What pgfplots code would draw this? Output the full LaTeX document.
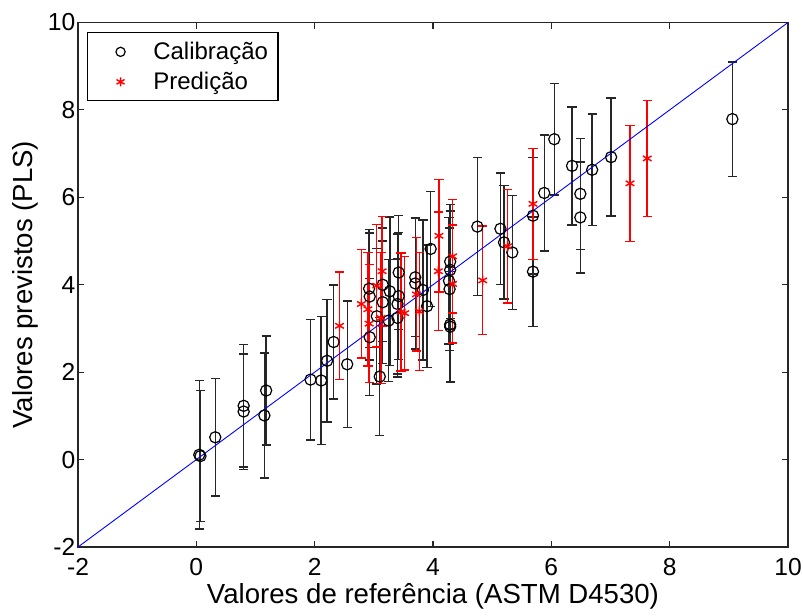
\documentclass[border=0pt]{standalone}
\usepackage{pgfplots}
\pgfplotsset{compat=1.18}
\usepackage{pgfplotstable}
\usepackage{fontspec}
\setmainfont{Liberation Sans}
\pgfplotstableread{
x y e
0.05 0.11 1.70
0.07 0.08 1.50
0.32 0.51 1.34
0.80 1.23 1.40
0.80 1.10 1.32
1.18 1.58 1.25
1.15 1.01 1.43
1.93 1.83 1.38
2.11 1.81 1.46
2.21 2.26 1.40
2.32 2.69 1.30
2.55 2.18 1.45
2.92 3.91 1.35
2.93 3.73 1.45
2.93 2.80 1.34
3.10 1.90 1.35
3.05 3.28 1.55
3.15 3.60 1.40
3.15 4.00 1.30
3.27 3.85 1.70
3.25 3.18 1.40
3.42 4.28 1.30
3.42 3.74 1.45
3.40 3.56 1.60
3.40 3.24 1.35
3.70 4.17 1.35
3.70 4.03 1.50
3.83 3.88 1.60
3.90 3.51 1.40
3.96 4.82 1.32
4.29 4.53 1.30
4.29 4.34 1.35
4.27 4.09 1.45
4.28 3.90 1.40
4.29 3.09 1.30
4.29 3.04 1.27
4.75 5.33 1.58
5.14 5.28 1.28
5.20 4.97 1.30
5.34 4.74 1.30
5.69 5.58 1.33
5.69 4.30 1.25
5.88 6.10 1.33
6.05 7.33 1.28
6.35 6.72 1.35
6.49 6.08 1.27
6.49 5.54 1.27
6.69 6.63 1.28
7.01 6.92 1.35
9.06 7.79 1.31
}\calib
\pgfplotstableread{
x y e
2.42 3.06 1.23
2.79 3.56 1.24
2.90 3.44 1.30
2.92 3.11 1.35
3.05 3.98 1.40
3.14 4.31 1.25
3.12 3.24 1.50
3.46 3.38 1.35
3.52 3.35 1.30
3.72 3.78 1.30
3.77 3.39 1.35
4.10 5.12 1.29
4.09 4.31 1.35
4.33 4.65 1.30
4.33 4.02 1.35
4.84 4.10 1.24
5.26 4.88 1.30
5.69 5.85 1.27
7.33 6.32 1.33
7.62 6.89 1.33
}\pred
\begin{document}
\begin{tikzpicture}
\path (-39pt,-30.5pt) rectangle (362.5pt,273.5pt);
\begin{axis}[
  at={(0,0)}, anchor=south west,
  scale only axis, width=355pt, height=262.25pt,
  xmin=-2, xmax=10, ymin=-2, ymax=10,
  xtick={-2,0,...,10}, ytick={-2,0,...,10},
  tick align=inside, major tick length=3pt,
  axis line style={line width=0.65pt, black!85},
  tick style={line width=0.55pt, black!85},
  /pgf/number format/assume math mode=true,
  ticklabel style={font=\fontsize{12.3}{14}\selectfont},
  yticklabel style={inner sep=1.2pt},
  xticklabel style={inner sep=0pt, yshift=-5.5pt},
  xlabel={Valores de referência (ASTM D4530)},
  ylabel={Valores previstos (PLS)},
  label style={font=\fontsize{13.8}{16}\selectfont},
  xlabel style={at={(axis description cs:0.5,-0.1068)}, anchor=base},
  ylabel style={at={(axis description cs:-0.0634,0.5)}, anchor=base},
  legend style={at={(0,1)}, anchor=north west, xshift=4.65pt, yshift=-4.9pt,
    draw=black, line width=0.55pt, font=\fontsize{12}{14}\selectfont,
    inner xsep=1pt, inner ysep=2.5pt, row sep=1pt,
    nodes={inner ysep=1.5pt, inner xsep=4pt, text height=9.5pt, text depth=1.5pt}},
  legend cell align=left,
  legend image code/.code={\path (0pt,0pt) (27pt,0pt); \draw[#1,mark size=2.3pt] plot coordinates {(15pt,0pt)};},
]
\addplot[only marks, mark=o, black, mark size=2.8pt, line width=0.6pt,
  error bars/.cd, y dir=both, y explicit,
  error bar style={line width=0.7pt, black!85},
  error mark options={rotate=90, mark size=2.3pt, line width=0.7pt, black!85}]
  table[x=x, y=y, y error=e] {\calib};
\addlegendentry{Calibração}
\addplot[only marks, mark=asterisk, red, mark size=2.5pt, line width=0.7pt,
  error bars/.cd, y dir=both, y explicit,
  error bar style={line width=0.7pt, red},
  error mark options={rotate=90, mark size=2.3pt, line width=0.7pt, red}]
  table[x=x, y=y, y error=e] {\pred};
\addlegendentry{Predição}
\addplot[blue, line width=0.45pt, forget plot] coordinates {(-2,-2) (10,10)};
\end{axis}
\end{tikzpicture}
\end{document}
